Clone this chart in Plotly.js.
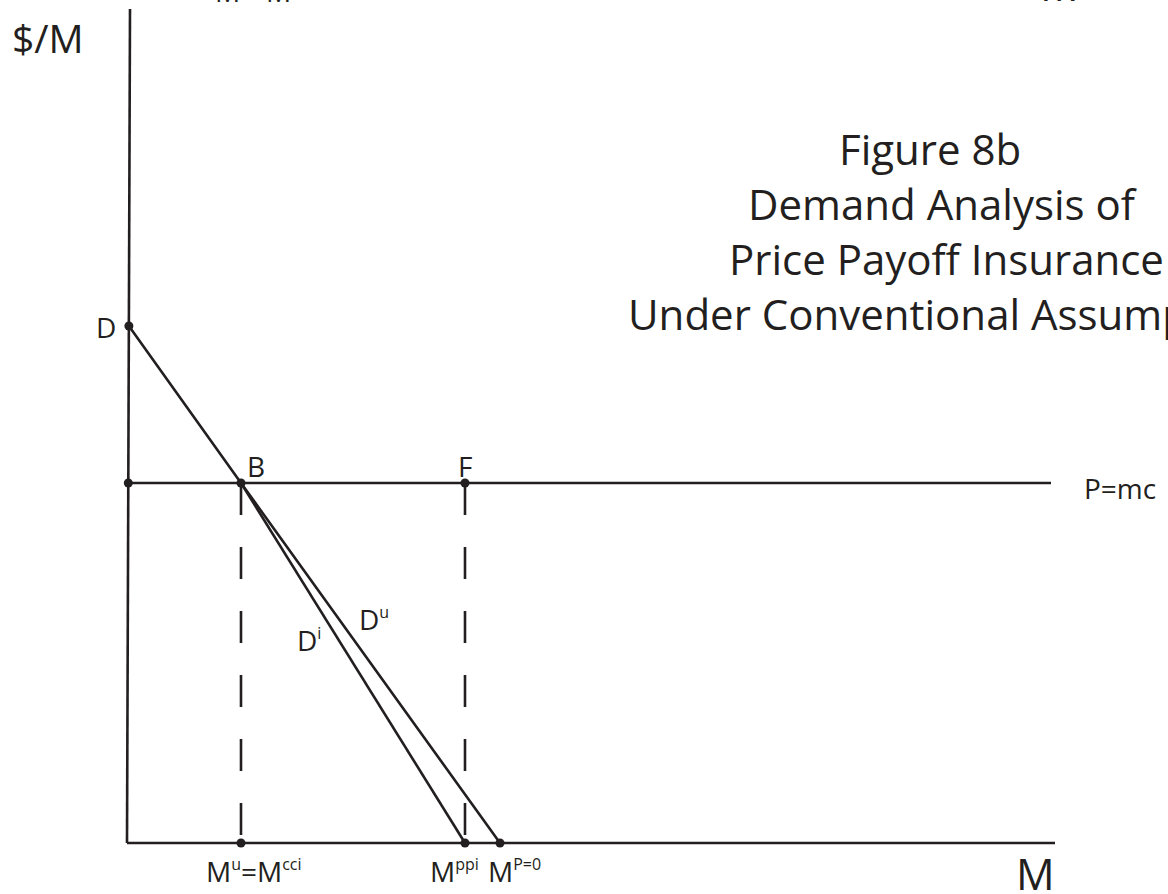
<!DOCTYPE html>
<html>
<head>
<meta charset="utf-8">
<script src="https://cdn.plot.ly/plotly-3.0.1.min.js"></script>
<style>
html,body{margin:0;padding:0;background:#fff;}
#chart{width:1168px;height:894px;}
</style>
</head>
<body>
<div id="chart"></div>
<script>
// ---- Data (quantity M on x, price $/M on y; origin at the axes corner) ----
const yAxisX = [0, 3];
const yAxisY = [0, 834];
const xAxisX = [0, 928];
const xAxisY = [0, 0];
const priceLineX = [1.3, 924];      // P = mc
const priceLineY = [360, 360];
const demandUX = [1.9, 114, 373];   // D -> B -> M^(P=0)  (D^u)
const demandUY = [517, 360, 0];
const demandIX = [114, 338];        // B -> M^ppi  (D^i)
const demandIY = [360, 0];
const dropBX = [114, 114];          // B down to M^u = M^cci
const dropBY = [360, 0];
const dropFX = [338, 338];          // F down to M^ppi
const dropFY = [360, 0];
const pointNames = ['D', 'P=mc intercept', 'B', 'F', 'M^u=M^cci', 'M^ppi', 'M^P=0'];
const pointX = [1.9, 1.3, 114, 338, 114, 338, 373];
const pointY = [517, 360, 360, 360, 0, 0, 0];
const titleLines = ['Figure 8b', 'Demand Analysis of', 'Price Payoff Insurance', 'Under Conventional Assumptions'];

const INK = '#231f20';
const FONT = '"Open Sans", "Noto Sans", sans-serif';

function seg(x, y, dash) {
  return {x: x, y: y, type: 'scatter', mode: 'lines', hoverinfo: 'skip',
          line: {color: INK, width: 2.6, dash: dash || 'solid'}, cliponaxis: false};
}

const traces = [
  seg(yAxisX, yAxisY),
  seg(xAxisX, xAxisY),
  seg(priceLineX, priceLineY),
  seg(demandUX, demandUY),
  seg(demandIX, demandIY),
  seg(dropBX, dropBY, '32px,32px'),
  seg(dropFX, dropFY, '32px,32px'),
  {x: pointX, y: pointY, text: pointNames, type: 'scatter', mode: 'markers',
   marker: {color: INK, size: 9}, hoverinfo: 'text', cliponaxis: false}
];

function sup(s) {
  return '<sup><span style="font-size:16px">' + s + '</span></sup>';
}

function ann(text, x, y, size, xanchor, yanchor) {
  return {text: text, x: x, y: y, xref: 'x', yref: 'y', showarrow: false,
          xanchor: xanchor || 'center', yanchor: yanchor || 'middle',
          font: {family: FONT, size: size, color: INK}};
}

const annotations = [
  ann('$/M', -79, 806, 39),
  ann('D', -21, 516, 28),
  ann('B', 129, 377, 28),
  ann('F', 338, 377, 28),
  ann('D' + sup('u'), 230, 224, 28, 'left'),
  ann('D' + sup('i'), 168, 203, 28, 'left'),
  ann('P=mc', 955, 355, 28, 'left'),
  ann('M' + sup('u') + '=M' + sup('cci'), 77, -28, 28, 'left'),
  ann('M' + sup('ppi'), 301, -28, 28, 'left'),
  ann('M' + sup('P=0'), 359, -28, 28, 'left'),
  ann('M', 908, -30, 43),
  ann(titleLines[0], 803, 695, 42),
  ann(titleLines[1], 816, 640, 42),
  ann(titleLines[2], 819, 585, 42),
  ann(titleLines[3], 499, 530, 42, 'left'),
  // labels of the companion figure above, cut by the top edge
  ann('M' + sup('u') + '=M' + sup('cci'), 86, 831, 28, 'left', 'bottom'),
  ann('M', 911, 827, 43, 'left', 'bottom')
];

const layout = {
  width: 1168, height: 894,
  margin: {l: 0, r: 0, t: 0, b: 0, pad: 0},
  paper_bgcolor: '#ffffff', plot_bgcolor: '#ffffff',
  showlegend: false,
  xaxis: {range: [-127, 1041], visible: false, fixedrange: true},
  yaxis: {range: [-51, 843], visible: false, fixedrange: true},
  annotations: annotations
};

Plotly.newPlot('chart', traces, layout, {displayModeBar: false, staticPlot: true});
</script>
</body>
</html>
